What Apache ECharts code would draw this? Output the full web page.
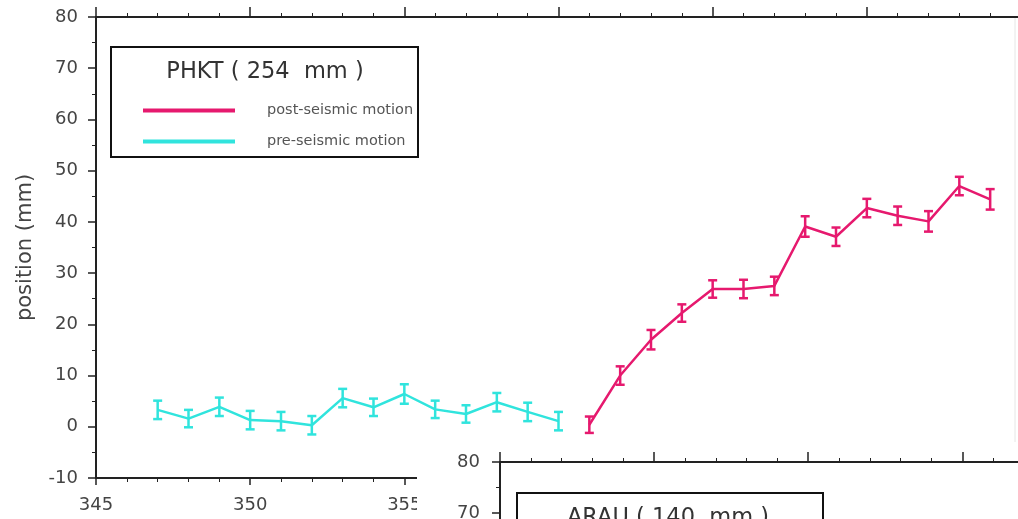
<!DOCTYPE html>
<html>
<head>
<meta charset="utf-8">
<script src="https://cdn.jsdelivr.net/npm/echarts@6/dist/echarts.min.js"></script>
<style>
  html, body { margin: 0; padding: 0; background: #fff; }
  #chart { width: 1018px; height: 519px; }
</style>
</head>
<body>
<div id="chart"></div>
<script>
// Daily GPS positions of PHKT around the earthquake (day of year vs. position, mm)
const preDays  = [347, 348, 349, 350, 351, 352, 353, 354, 355, 356, 357, 358, 359, 360];
const preVals  = [3.3, 1.6, 3.9, 1.3, 1.1, 0.3, 5.6, 3.8, 6.4, 3.4, 2.5, 4.8, 2.9, 1.1];
const preErr   = [1.8, 1.7, 1.8, 1.8, 1.8, 1.8, 1.8, 1.7, 1.9, 1.7, 1.7, 1.8, 1.8, 1.8];

const postDays = [361, 362, 363, 364, 365, 366, 367, 368, 369, 370, 371, 372, 373, 374];
const postVals = [0.4, 10.0, 17.0, 22.2, 26.9, 26.9, 27.5, 39.1, 37.1, 42.7, 41.2, 40.1, 47.0, 44.4];
const postErr  = [1.6, 1.8, 1.9, 1.7, 1.7, 1.8, 1.8, 2.0, 1.8, 1.8, 1.8, 2.0, 1.8, 2.0];

const stationMain  = 'PHKT ( 254  mm )';
const stationInset = 'ARAU ( 140  mm )';
const seriesNames  = ['post-seismic motion', 'pre-seismic motion'];
const yAxisTitle   = 'position (mm)';

const PINK = '#e6196e';
const CYAN = '#30e4dd';
const AXIS = '#222';
const FONT = 'DejaVu Sans';

const pairs = (xs, ys) => xs.map((x, i) => [x, ys[i]]);
const bars  = (xs, ys, es) => xs.map((x, i) => [x, ys[i] - es[i], ys[i] + es[i]]);

// I-beam error bars drawn through the axis scales
function renderErrorBar(params, api) {
  const x = api.value(0);
  const lo = api.coord([x, api.value(1)]);
  const hi = api.coord([x, api.value(2)]);
  const c = api.visual('color');
  const w = 4.5;
  const st = { stroke: c, lineWidth: 2.5 };
  return {
    type: 'group',
    children: [
      { type: 'line', shape: { x1: lo[0], y1: lo[1], x2: hi[0], y2: hi[1] }, style: st },
      { type: 'line', shape: { x1: lo[0] - w, y1: lo[1], x2: lo[0] + w, y2: lo[1] }, style: st },
      { type: 'line', shape: { x1: hi[0] - w, y1: hi[1], x2: hi[0] + w, y2: hi[1] }, style: st }
    ]
  };
}

function xAxisDef(grid, pos, max, showLabel, tickLen, z) {
  return {
    type: 'value', gridIndex: grid, position: pos, min: 345, max: max, interval: 5, z: z,
    axisLine: { show: true, onZero: false, lineStyle: { color: AXIS, width: 2 } },
    axisTick: { show: true, length: tickLen, lineStyle: { color: AXIS, width: 1.5 } },
    minorTick: { show: true, splitNumber: 5, length: 4, lineStyle: { color: AXIS, width: 1 } },
    splitLine: { show: false },
    axisLabel: { show: showLabel, fontSize: 18, color: '#444', margin: 18, fontFamily: FONT }
  };
}

function yAxisDef(grid, margin, z, named) {
  const ax = {
    type: 'value', gridIndex: grid, min: -10, max: 80, interval: 10, z: z,
    axisLine: { show: true, onZero: false, lineStyle: { color: AXIS, width: 2 } },
    axisTick: { show: true, length: 8, lineStyle: { color: AXIS, width: 1.5 } },
    minorTick: { show: true, splitNumber: 2, length: 4, lineStyle: { color: AXIS, width: 1 } },
    splitLine: { show: false },
    axisLabel: { fontSize: 18, color: '#444', margin: margin, fontFamily: FONT }
  };
  if (named) {
    Object.assign(ax, {
      name: yAxisTitle, nameLocation: 'middle', nameGap: 60,
      nameTextStyle: { fontSize: 21, color: '#444', fontFamily: FONT }
    });
  }
  return ax;
}

const chart = echarts.init(document.getElementById('chart'), null, { renderer: 'canvas' });

chart.setOption({
  backgroundColor: '#fff',
  animation: false,
  grid: [
    { left: 96, top: 17, width: 925, height: 461, outerBoundsMode: 'none', containLabel: false },
    { left: 500, top: 462, width: 524, height: 461, outerBoundsMode: 'none', containLabel: false }
  ],
  xAxis: [
    xAxisDef(0, 'bottom', 375, true, 7, 0),
    xAxisDef(0, 'top', 375, false, 10, 0),
    xAxisDef(1, 'top', 362, false, 10, 60)
  ],
  yAxis: [
    yAxisDef(0, 18, 0, true),
    yAxisDef(1, 20, 60, false)
  ],
  legend: {
    data: seriesNames,
    orient: 'vertical',
    left: 143, top: 102, padding: 0,
    itemWidth: 92, itemHeight: 4, itemGap: 14,
    icon: 'rect',
    textStyle: { fontSize: 14.5, color: '#555', fontFamily: FONT, padding: [0, 0, 0, 27], lineHeight: 17 }
  },
  series: [
    {
      name: seriesNames[1], type: 'line', xAxisIndex: 0, yAxisIndex: 0,
      data: pairs(preDays, preVals), symbol: 'none', z: 3,
      itemStyle: { color: CYAN }, lineStyle: { color: CYAN, width: 2.5 }
    },
    {
      name: seriesNames[1], type: 'custom', xAxisIndex: 0, yAxisIndex: 0,
      data: bars(preDays, preVals, preErr), renderItem: renderErrorBar,
      encode: { x: 0, y: [1, 2] }, itemStyle: { color: CYAN }, z: 3
    },
    {
      name: seriesNames[0], type: 'line', xAxisIndex: 0, yAxisIndex: 0,
      data: pairs(postDays, postVals), symbol: 'none', z: 3,
      itemStyle: { color: PINK }, lineStyle: { color: PINK, width: 2.5 }
    },
    {
      name: seriesNames[0], type: 'custom', xAxisIndex: 0, yAxisIndex: 0,
      data: bars(postDays, postVals, postErr), renderItem: renderErrorBar,
      encode: { x: 0, y: [1, 2] }, itemStyle: { color: PINK }, z: 3
    }
  ],
  graphic: [
    // faint right frame of the main panel
    { type: 'line', z: 1, shape: { x1: 1015, y1: 18, x2: 1015, y2: 442 },
      style: { stroke: '#e6e6e6', lineWidth: 1 } },
    // main legend frame and station title
    { type: 'rect', z: 5, shape: { x: 111, y: 47, width: 307, height: 110 },
      style: { fill: 'transparent', stroke: '#111', lineWidth: 2 } },
    { type: 'text', z: 6, style: { x: 265, y: 72, text: stationMain, fill: '#333',
      font: '22.5px "DejaVu Sans"', textAlign: 'center', textVerticalAlign: 'middle' } },
    // backdrop of the second station panel
    { type: 'rect', z: 50, shape: { x: 417, y: 442, width: 610, height: 80 },
      style: { fill: '#fff' } },
    { type: 'rect', z: 61, shape: { x: 517, y: 493, width: 306, height: 60 },
      style: { fill: '#fff', stroke: '#111', lineWidth: 2 } },
    { type: 'text', z: 62, style: { x: 668, y: 518, text: stationInset, fill: '#333',
      font: '22.5px "DejaVu Sans"', textAlign: 'center', textVerticalAlign: 'middle' } }
  ]
});
</script>
</body>
</html>
